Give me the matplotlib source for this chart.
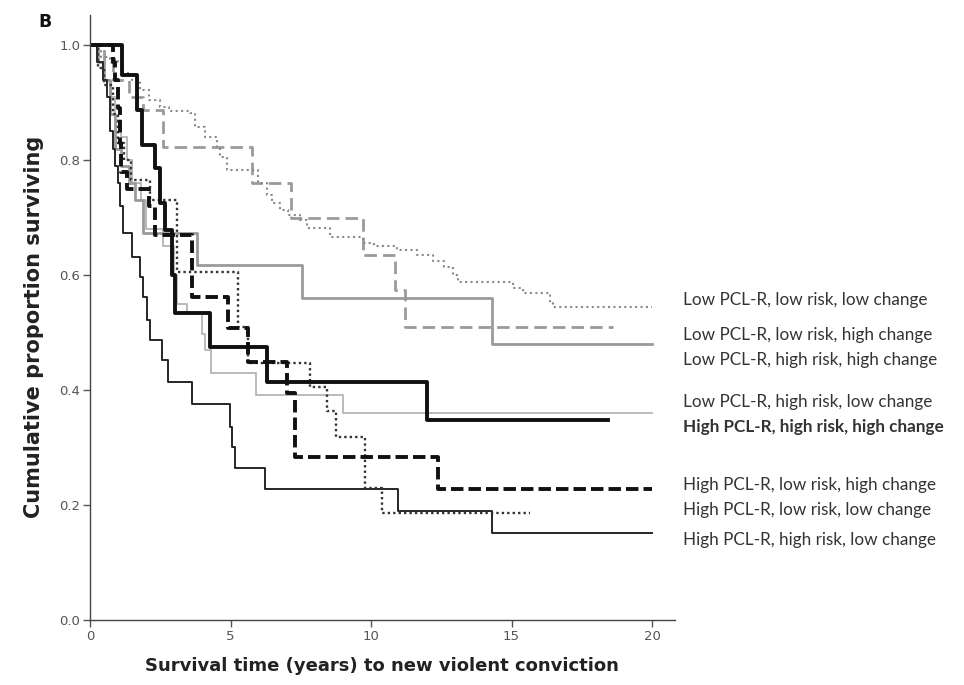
import numpy as np
import matplotlib
matplotlib.use('Agg')
import matplotlib.pyplot as plt

# step curves: drop times (years) and cumulative proportion surviving
t_ll_low = [0, 0.4, 0.7, 1.0, 1.17, 1.5, 1.78, 2.1, 2.49, 2.8, 3.56, 3.74, 4.09, 4.52, 4.63, 4.88, 5.98, 6.3, 6.48,
            6.76, 7.05, 7.47, 7.72, 8.54, 9.72, 10.1, 10.93, 11.64, 12.2, 12.6, 12.92, 13.1, 15.05, 15.41, 16.37,
            16.48, 20]
s_ll_low = [1.0, 0.98, 0.975, 0.97, 0.951, 0.94, 0.922, 0.905, 0.892, 0.885, 0.882, 0.857, 0.840, 0.821, 0.805,
            0.783, 0.760, 0.74, 0.725, 0.713, 0.704, 0.696, 0.682, 0.666, 0.656, 0.65, 0.643, 0.635, 0.625, 0.614,
            0.600, 0.588, 0.577, 0.569, 0.551, 0.544, 0.544]

t_ll_high = [0, 0.5, 0.8, 1.4, 1.9, 2.6, 5.77, 7.15, 9.72, 10.85, 11.2, 18.6]
s_ll_high = [1.0, 0.97, 0.94, 0.91, 0.887, 0.823, 0.760, 0.699, 0.635, 0.574, 0.510, 0.510]

t_lh_high = [0, 0.3, 0.5, 0.7, 0.9, 1.1, 1.4, 1.6, 1.89, 3.81, 7.54, 14.3, 20]
s_lh_high = [1.0, 0.97, 0.94, 0.88, 0.82, 0.79, 0.76, 0.73, 0.673, 0.617, 0.56, 0.48, 0.48]

t_lh_low = [0, 0.3, 0.5, 0.7, 0.9, 1.1, 1.3, 1.5, 1.8, 2.0, 2.6, 3.0, 3.1, 3.45, 4.0, 4.1, 4.3, 5.9, 9.0, 20]
s_lh_low = [1.0, 0.97, 0.94, 0.91, 0.87, 0.84, 0.80, 0.76, 0.73, 0.68, 0.65, 0.60, 0.55, 0.534, 0.498, 0.47,
            0.43, 0.392, 0.36, 0.36]

t_hh_high = [0, 1.14, 1.67, 1.85, 2.31, 2.49, 2.67, 2.92, 3.02, 4.27, 6.3, 12.0, 18.43]
s_hh_high = [1.0, 0.948, 0.887, 0.826, 0.786, 0.725, 0.678, 0.60, 0.534, 0.475, 0.414, 0.348, 0.348]

t_hl_high = [0, 0.8, 0.9, 1.0, 1.05, 1.1, 1.3, 2.1, 2.3, 3.63, 4.91, 5.62, 7.01, 7.3, 12.38, 20]
s_hl_high = [1.0, 0.97, 0.94, 0.89, 0.83, 0.78, 0.75, 0.72, 0.67, 0.562, 0.508, 0.449, 0.395, 0.283, 0.228, 0.228]

t_hl_low = [0, 0.3, 0.5, 0.8, 1.0, 1.2, 1.45, 2.14, 3.1, 5.27, 5.62, 7.83, 8.43, 8.75, 9.79, 10.39, 15.66]
s_hl_low = [1.0, 0.96, 0.93, 0.88, 0.83, 0.80, 0.765, 0.73, 0.605, 0.51, 0.447, 0.405, 0.363, 0.318, 0.23, 0.186,
            0.186]

t_hh_low = [0, 0.25, 0.45, 0.6, 0.7, 0.8, 0.9, 1.0, 1.05, 1.17, 1.49, 1.78, 1.89, 2.03, 2.14, 2.56, 2.78, 3.63,
            4.98, 5.05, 5.16, 6.23, 10.96, 14.3, 20]
s_hh_low = [1.0, 0.97, 0.94, 0.91, 0.85, 0.82, 0.79, 0.76, 0.72, 0.673, 0.631, 0.597, 0.562, 0.522, 0.487, 0.452,
            0.414, 0.376, 0.336, 0.301, 0.264, 0.228, 0.190, 0.151, 0.151]

group_labels = ['Low PCL-R, low risk, low change',
                'Low PCL-R, low risk, high change',
                'Low PCL-R, high risk, high change',
                'Low PCL-R, high risk, low change',
                'High PCL-R, high risk, high change',
                'High PCL-R, low risk, high change',
                'High PCL-R, low risk, low change',
                'High PCL-R, high risk, low change']

x_ticks = [0, 5, 10, 15, 20]
y_ticks = [0.0, 0.2, 0.4, 0.6, 0.8, 1.0]

fig = plt.figure(figsize=(9.64, 6.85), dpi=100)
ax = fig.add_axes([0.0934, 0.0949, 0.6063, 0.883])

# grey curves first, black ones on top
ax.step(t_lh_low, s_lh_low, where='post', color='#b4b4b4', lw=1.3)
ax.step(t_lh_high, s_lh_high, where='post', color='#9a9a9a', lw=2.0)
ax.step(t_ll_high, s_ll_high, where='post', color='#9a9a9a', lw=2.0, dashes=(4.5, 2.2))
ax.step(t_ll_low, s_ll_low, where='post', color='#8a8a8a', lw=1.5, dashes=(1, 1.6))
ax.step(t_hh_low, s_hh_low, where='post', color='#262626', lw=1.4)
ax.step(t_hl_low, s_hl_low, where='post', color='#333333', lw=1.7, dashes=(1, 1.3))
ax.step(t_hl_high, s_hl_high, where='post', color='#111111', lw=2.8, dashes=(3.2, 1.3))
ax.step(t_hh_high, s_hh_high, where='post', color='#111111', lw=2.8)

ax.set_xlim(0, 20.8)
ax.set_ylim(0, 1.052)
ax.set_xticks(x_ticks)
ax.set_yticks(y_ticks)
ax.set_yticklabels(['%.1f' % v for v in y_ticks])
ax.tick_params(direction='out', length=5, width=1, colors='#555555', labelsize=9.5, pad=2)
for side in ['top', 'right']:
    ax.spines[side].set_visible(False)
for side in ['left', 'bottom']:
    ax.spines[side].set_color('#444444')
    ax.spines[side].set_linewidth(1)

ax.set_xlabel('Survival time (years) to new violent conviction', fontsize=13, fontweight='bold',
              color='#222222', labelpad=10)
ax.set_ylabel('Cumulative proportion surviving', fontsize=15, fontweight='bold', color='#222222')
ax.yaxis.set_label_coords(-0.078, 0.484)

fig.text(0.04, 0.968, 'B', fontsize=12.5, fontweight='bold', color='#111111', ha='left', va='center')

# group names next to the curve ends
label_y = [0.557, 0.496, 0.452, 0.379, 0.336, 0.235, 0.191, 0.139]
for i, txt in enumerate(group_labels):
    ax.text(21.1, label_y[i], txt, fontsize=12.3, family='Lato', color='#333333', va='center', ha='left',
            fontweight='bold' if i == 4 else 'normal', clip_on=False)

plt.savefig('out.png', dpi=100)
